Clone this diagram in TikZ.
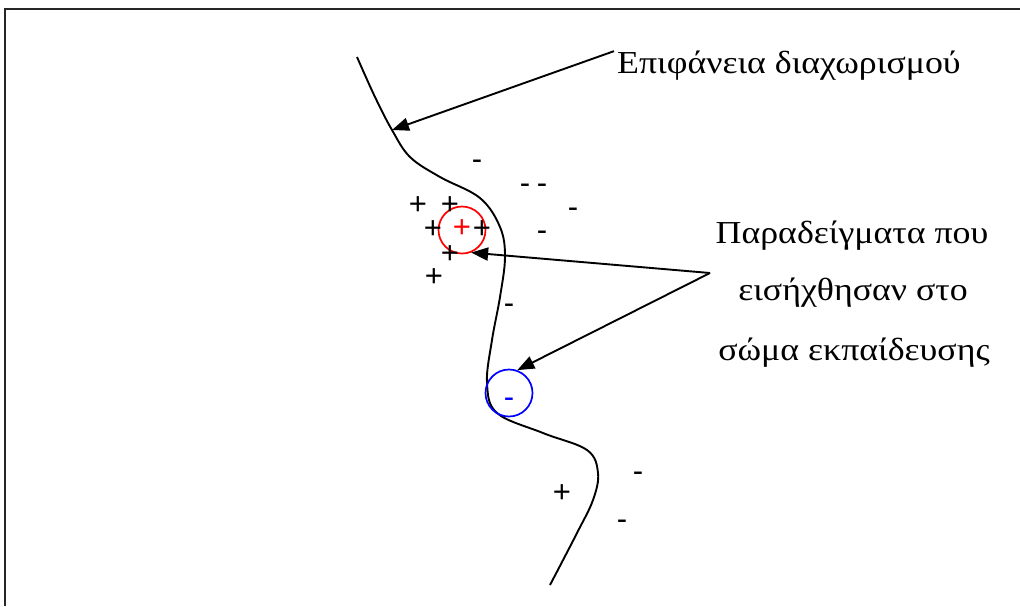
\documentclass[tikz,border=0pt]{standalone}
\usepackage{fontspec}
\setmainfont[FakeStretch=1.12]{Liberation Serif}
\newfontfamily\signfont{Liberation Sans}
\usetikzlibrary{arrows.meta}
\tikzset{
  lbl/.style={font=\fontsize{32}{38}\selectfont, inner sep=0pt},
  sgn/.style={font=\signfont\fontsize{31}{34}\selectfont, inner sep=0pt, text height=0.6em, text depth=0pt, yshift=-4pt},
  arr/.style={line width=1.9pt, -{Triangle[length=17pt,width=13pt]}},
  ring/.style={circle, line width=1.7pt, minimum size=47pt, inner sep=0pt},
}
\begin{document}
\begin{tikzpicture}[x=1pt,y=-1pt]
\useasboundingbox (0,0) rectangle (1020,606);
% frame
\draw[line width=2.5pt, black!85] (5,606) -- (5,9) -- (1020,9);
% separating surface
\draw[line width=1.9pt] plot[smooth, tension=0.6] coordinates {
 (357,57) (375,97) (392,130) (410,157) (440,177) (480,198) (500,227)
 (505,257) (500,297) (492,340) (487,383) (497,413) (543,433) (587,450)
 (598,473) (593,500) (577,533) (550,585)};
\coordinate (surf) at (392,130);
% labels
\node[lbl, anchor=base west] (t1) at (617,73) {Επιφάνεια διαχωρισμού};
\node[lbl, anchor=base] (t2) at (852,243) {Παραδείγματα που};
\node[lbl, anchor=base] (t3) at (853,300) {εισήχθησαν στο};
\node[lbl, anchor=base] (t4) at (854,360) {σώμα εκπαίδευσης};
% circles
\node[ring, draw=red] (redc) at (462,230) {};
\node[ring, draw=blue] (bluec) at (509,393) {};
\node[sgn, text=red] (rp) at (462,230) {+};
\node[sgn, text=blue] (bm) at (509,400) {-};
% plus signs
\node[sgn] (p1) at (418,207) {+};
\node[sgn] (p2) at (450,207) {+};
\node[sgn] (p3) at (433,231) {+};
\node[sgn] (p4) at (482,231) {+};
\node[sgn] (p5) at (450,256) {+};
\node[sgn] (p6) at (434,279) {+};
\node[sgn] (p7) at (562,495) {+};
% minus signs
\node[sgn] (m1) at (477,162) {-};
\node[sgn] (m2) at (525,186) {-};
\node[sgn] (m3) at (542,186) {-};
\node[sgn] (m4) at (573,210) {-};
\node[sgn] (m5) at (542,233) {-};
\node[sgn] (m6) at (509,306) {-};
\node[sgn] (m7) at (638,474) {-};
\node[sgn] (m8) at (622,522) {-};
% arrows
\coordinate (apex) at (710,273);
\draw[arr] (t1.west) ++(-3,-14) coordinate (a1) (a1) -- (surf);
\draw[arr] (apex) -- (redc.-68);
\draw[arr] (apex) -- (bluec.70);
\end{tikzpicture}
\end{document}
